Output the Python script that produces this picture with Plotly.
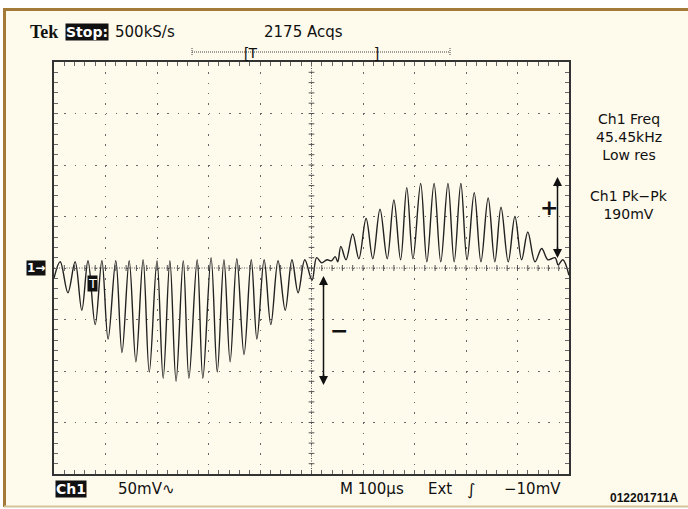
import plotly.graph_objects as go

# Extremum points of the acquired trace (time in microseconds, amplitude in mV)
time_us = [0, 12, 27, 41, 54, 66, 80, 93, 105, 120, 132, 146, 159, 173, 185, 200, 212, 225, 237, 251,
           262, 278, 289, 305, 317, 330, 342, 355, 369, 383, 394, 408, 421, 435, 449, 462, 474, 487, 501,
           510, 520, 530, 539, 546, 551, 557, 567, 580, 592, 606, 619, 633, 647, 660, 673, 685, 697,
           712, 724, 738, 751, 765, 777, 790, 802, 816, 829, 843, 856, 868, 882, 895, 908, 920, 934,
           947, 959, 973, 979, 988, 1000]
volt_mv = [-10, 6, -24, 6, -41, 7, -55, 7, -69, 7, -82, 7, -91, 8, -101, 7, -107, 7, -110, 7,
           -107, 8, -107, 10, -101, 8, -91, 9, -84, 8, -69, 8, -55, 7, -41, 8, -24, 8, -12,
           10, 5, 8, 7, 11, 6, 21, 8, 33, 9, 48, 9, 57, 9, 66, 8, 78, 9,
           82, 6, 82, 6, 82, 6, 82, 8, 73, 6, 68, 6, 59, 6, 50, 8, 35, 6,
           19, 8, 10, 3, 8, -7]

freq_lines = ["Ch1 Freq", "45.45kHz", "Low res"]
pkpk_lines = ["Ch1 Pk\u2212Pk", "190mV"]

x_range = [0, 1000]
y_range = [-200, 200]

W, H = 688, 509
L, R, T, B = 54, 569, 62, 474


def px(x):
    return (x - L) / (R - L)


def py(y):
    return (B - y) / (B - T)


CREAM = "#FFFBEC"
FONT = "DejaVu Sans"

fig = go.Figure()
fig.add_trace(go.Scatter(x=time_us, y=volt_mv, mode="lines",
                         line=dict(color="#222222", width=1.4, shape="spline", smoothing=1.0),
                         hoverinfo="skip", showlegend=False))

shapes = []
# page background and borders
shapes.append(dict(type="rect", xref="paper", yref="paper", x0=px(5), x1=px(690), y0=py(10), y1=py(506),
                   fillcolor=CREAM, line=dict(width=0), layer="below"))
shapes.append(dict(type="line", xref="paper", yref="paper", x0=px(4), x1=px(690), y0=py(9.5), y1=py(9.5),
                   line=dict(color="#A47A38", width=3)))
shapes.append(dict(type="line", xref="paper", yref="paper", x0=px(4.5), x1=px(4.5), y0=py(8), y1=py(507),
                   line=dict(color="#A47A38", width=3)))
shapes.append(dict(type="line", xref="paper", yref="paper", x0=px(4), x1=px(690), y0=py(506.5), y1=py(506.5),
                   line=dict(color="#D6C49C", width=2)))

# center cross: dense dotted lines with minor ticks
shapes.append(dict(type="line", x0=500, x1=500, y0=-200, y1=200,
                   line=dict(color="#555", width=1, dash="1px,1.5px")))
shapes.append(dict(type="line", x0=0, x1=1000, y0=0, y1=0,
                   line=dict(color="#555", width=1, dash="1px,1.5px")))
for i in range(1, 50):
    t = i * 20
    shapes.append(dict(type="line", x0=t, x1=t, y0=-2.9, y1=2.9, line=dict(color="#555", width=1)))
for i in range(1, 40):
    v = -200 + i * 10
    shapes.append(dict(type="line", x0=494.5, x1=505.5, y0=v, y1=v, line=dict(color="#555", width=1)))

# trigger position bracket at top
shapes.append(dict(type="line", xref="paper", yref="paper", x0=px(192), x1=px(450), y0=py(52), y1=py(52),
                   line=dict(color="#444", width=1, dash="1px,1px")))
for xx in (192, 450):
    shapes.append(dict(type="line", xref="paper", yref="paper", x0=px(xx), x1=px(xx), y0=py(48), y1=py(56),
                       line=dict(color="#444", width=1, dash="1px,1px")))

# Pk-Pk arrows
for xx, ya, yb in ((557.5, 177, 258), (323.5, 276, 385)):
    shapes.append(dict(type="line", xref="paper", yref="paper", x0=px(xx), x1=px(xx), y0=py(ya + 4), y1=py(yb - 4),
                       line=dict(color="#111", width=1.5)))
fig.update_layout(shapes=shapes)

ann = []


def text(x, y, s, size=13, color="#111", bg=None, anchor="left", family=FONT, bold=False):
    if bold:
        s = "<b>" + s + "</b>"
    ann.append(dict(xref="paper", yref="paper", x=px(x), y=py(y), text=s, showarrow=False,
                    xanchor=anchor, yanchor="middle", align="center",
                    font=dict(size=size, color=color, family=family),
                    bgcolor=bg, borderpad=0))


text(29, 32, "Tek", size=18, family="Liberation Serif", bold=True)
text(65, 32, "Stop:", size=14, color="white", bg="#111", bold=True)
text(114, 32, "500kS/s", size=15)
text(303, 32, "2175 Acqs", size=15, anchor="center")
text(250, 52, "[T", size=15, anchor="center", family="Liberation Sans")
text(377, 52, "]", size=15, anchor="center", family="Liberation Sans")

text(629, 137, "<br>".join(freq_lines), size=14, anchor="center")
text(629, 204.5, "<br>".join(pkpk_lines), size=14, anchor="center")

text(55, 489, "Ch1", size=14, color="white", bg="#111", bold=True)
text(117, 489, "50mV\u223f", size=15)
text(339, 489, "M 100\u00b5s", size=15)
text(427, 489, "Ext", size=15)
text(471, 489, "\u222b", size=16, anchor="center")
text(503, 489, "\u221210mV", size=15)
text(679, 498, "012201711A", size=12, anchor="right", family="Liberation Sans", bold=True)

text(26, 268, "1\u2192", size=12, color="white", bg="#111", bold=True)
text(87, 283, "T", size=13, color="white", bg="#111")

text(549, 208, "+", size=22, anchor="center", bold=True)
text(339, 330, "\u2212", size=22, anchor="center", bold=True)

for xx, ya, yb in ((557.5, 177, 258), (323.5, 276, 385)):
    ann.append(dict(xref="paper", yref="paper", x=px(xx), y=py(ya), ax=0, ay=12,
                    showarrow=True, arrowhead=2, arrowsize=1.2,
                    arrowwidth=1.5, arrowcolor="#111", text=""))
    ann.append(dict(xref="paper", yref="paper", x=px(xx), y=py(yb), ax=0, ay=-12,
                    showarrow=True, arrowhead=2, arrowsize=1.2,
                    arrowwidth=1.5, arrowcolor="#111", text=""))

fig.update_layout(annotations=ann)

axis_common = dict(showline=True, linecolor="#333", linewidth=2, mirror="allticks",
                   ticks="inside", ticklen=4, tickcolor="#666", tickwidth=1,
                   showticklabels=False, zeroline=False, showgrid=True,
                   gridcolor="#666", gridwidth=1, griddash="1.5px,8.8px", fixedrange=True)

fig.update_xaxes(range=x_range, dtick=100, tick0=0,
                 minor=dict(dtick=20, ticks="inside", ticklen=4, tickcolor="#666", showgrid=False),
                 **axis_common)
fig.update_yaxes(range=y_range, dtick=50, tick0=0,
                 minor=dict(dtick=10, ticks="inside", ticklen=4, tickcolor="#666", showgrid=False),
                 **axis_common)

fig.update_layout(width=W, height=H, margin=dict(l=L, r=W - R, t=T, b=H - B),
                  paper_bgcolor="white", plot_bgcolor=CREAM, showlegend=False)

fig.write_html("out.html")
